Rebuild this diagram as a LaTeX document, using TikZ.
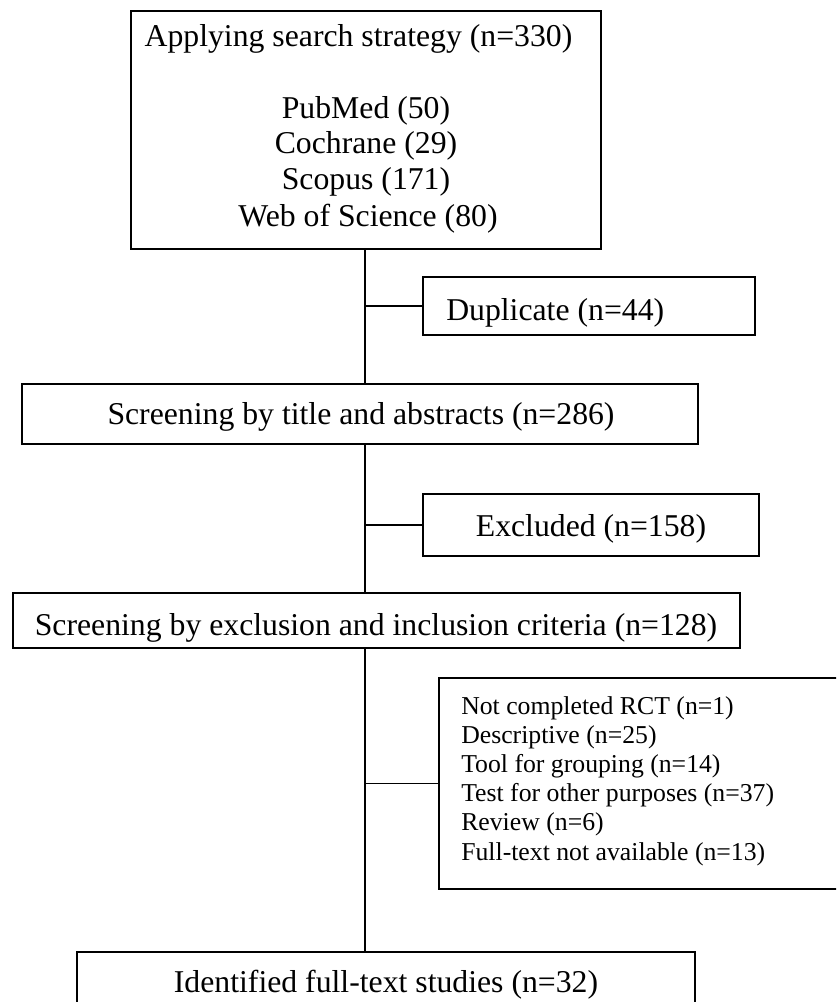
\documentclass[tikz,border=0pt]{standalone}
\usepackage{fontspec}
\setmainfont{Liberation Serif}
\begin{document}
\begin{tikzpicture}[x=0.75pt,y=-0.75pt,
  box/.style={draw,line width=1.1pt,inner sep=0pt,rectangle},
  lbl/.style={inner sep=0pt,font=\fontsize{23.8}{28}\selectfont},
  small/.style={inner sep=0pt,font=\fontsize{19.3}{22}\selectfont},
  conn/.style={line width=1.1pt}]
\useasboundingbox (0,0) rectangle (836,1002);
\clip (0,0) rectangle (836,1002);
% boxes
\node[box,minimum width=352.5pt,minimum height=178.5pt] (b1) at (366,130) {};
\node[box,minimum width=249pt,minimum height=43.5pt] (dup) at (589,306) {};
\node[box,minimum width=507pt,minimum height=45pt] (b2) at (360,414) {};
\node[box,minimum width=252pt,minimum height=46.5pt] (exc) at (591,525) {};
\node[box,minimum width=545.25pt,minimum height=41.25pt] (b3) at (376.5,620.5) {};
\node[box,minimum width=308.25pt,minimum height=158.25pt] (lst) at (644.5,783.5) {};
\node[box,minimum width=463.5pt,minimum height=66pt] (b4) at (386,996) {};
% texts
\node[lbl,anchor=base] (t1a) at (358.5,47) {Applying search strategy (n=330)};
\node[lbl,anchor=base] (t1b) at (366,119) {PubMed (50)};
\node[lbl,anchor=base] (t1c) at (366,154) {Cochrane (29)};
\node[lbl,anchor=base] (t1d) at (366,190) {Scopus (171)};
\node[lbl,anchor=base] (t1e) at (368,226) {Web of Science (80)};
\node[lbl,anchor=base west] (tdup) at (446,320) {Duplicate (n=44)};
\node[lbl,anchor=base] (t2) at (361,424) {Screening by title and abstracts (n=286)};
\node[lbl,anchor=base] (texc) at (591,536) {Excluded (n=158)};
\begin{scope}
\clip (0,0) rectangle (836,645);
\node[lbl,anchor=base] (t3) at (376,635) {Screening by exclusion and inclusion criteria (n=128)};
\end{scope}
\foreach \i/\t in {0/{Not completed RCT (n=1)},1/{Descriptive (n=25)},2/{Tool for grouping (n=14)},3/{Test for other purposes (n=37)},4/{Review (n=6)},5/{Full-text not available (n=13)}}
  \node[small,anchor=base west] (L\i) at (461,{714+29.2*\i}) {\t};
\node[lbl,anchor=base] (t4) at (386,992) {Identified full-text studies (n=32)};
% connectors
\coordinate (tr) at (365,0);
\draw[conn] (b1.south -| tr) -- (b2.north -| tr);
\draw[conn] (b2.south -| tr) -- (b3.north -| tr);
\draw[conn] (b3.south -| tr) -- (b4.north -| tr);
\draw[conn] (dup.west -| tr) -- (dup.west);
\draw[conn] (exc.west -| tr) -- (exc.west);
\draw[conn] (lst.west -| tr) -- (lst.west);
\end{tikzpicture}
\end{document}
